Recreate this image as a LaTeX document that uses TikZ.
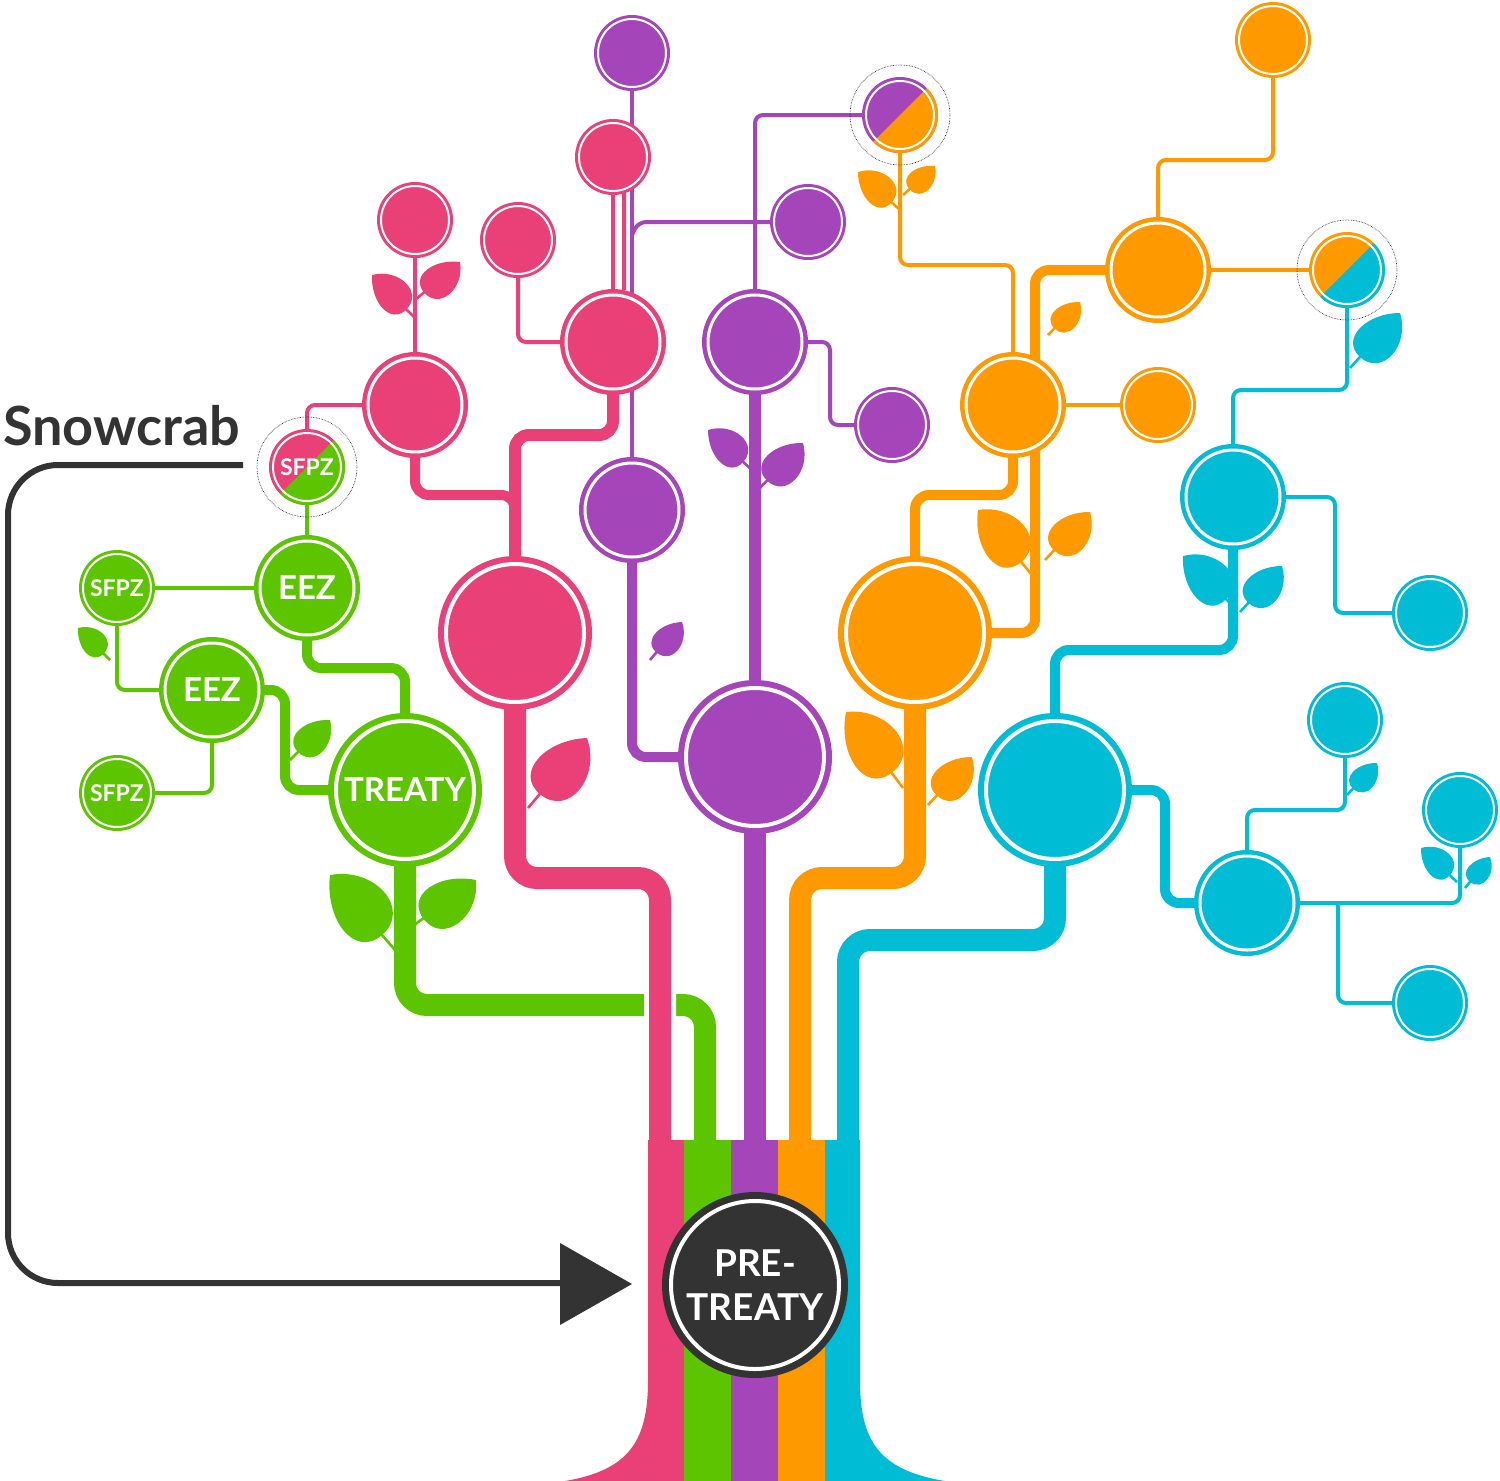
\documentclass[tikz,border=0pt]{standalone}
\usepackage{fontspec}
\setmainfont{Lato}[UprightFont=* Bold]
\usetikzlibrary{calc}
\definecolor{pk}{HTML}{E94077}
\definecolor{gr}{HTML}{5DC500}
\definecolor{pu}{HTML}{A445BA}
\definecolor{or}{HTML}{FF9900}
\definecolor{cy}{HTML}{00BCD4}
\definecolor{dk}{HTML}{333333}
\tikzset{
 thin/.style={line width=4,rounded corners=8},
 med/.style={line width=10,rounded corners=14},
 thk/.style={line width=22,rounded corners=22},
 wh/.style={white,line width=32,rounded corners=22},
 bub/.style={circle,fill=#1,inner sep=0,text=white},
 leaf/.pic={\draw[line width=2.6,pic actions] (0,0)--(16,0);
   \fill[pic actions] (60,0) .. controls (46,24) and (12,24) .. (12,0) .. controls (12,-22) and (42,-20) .. (60,0) -- cycle;}
}
\newcommand\leafat[3]{\path let \p1=($(#3)-(#2)$), \n1={atan2(\y1,\x1)}, \n2={veclen(\x1,\y1)/60} in (#2) pic[#1,rotate=\n1,scale=\n2] {leaf};}
\newcommand\ring[3]{\draw[white,line width=#3] (#1) circle ({#2});}
\newcommand\mixc[4]{\fill[#3] (#1) circle (#2);
 \begin{scope}\clip (#1) circle (#2);
 \fill[#4] ($(#1)+(#2,-#2)$) -- ($(#1)+(-#2,#2)$) -- ($(#1)+(#2,#2)$) -- cycle;\end{scope}
 \draw[white,line width=2] (#1) circle ({#2-4});
 \draw[black,densely dotted,line width=0.6] (#1) circle ({#2+12});}
\begin{document}
\begin{tikzpicture}[x=1pt,y=-1pt]
\useasboundingbox (0,0) rectangle (1500,1481);
% coordinates
\coordinate (P0) at (515,633); \coordinate (P1) at (415,405); \coordinate (P2) at (613,342);
\coordinate (P3) at (415,220); \coordinate (P4) at (518,240); \coordinate (P5) at (613,157);
\coordinate (U0) at (755,757); \coordinate (U1) at (755,342); \coordinate (U2) at (632,510);
\coordinate (U3) at (632,53); \coordinate (U4) at (808,222); \coordinate (U5) at (892,425);
\coordinate (UO) at (900,115);
\coordinate (O0) at (915,633); \coordinate (O1) at (1013,405); \coordinate (O2) at (1158,270);
\coordinate (O3) at (1158,405); \coordinate (O4) at (1273,40); \coordinate (OC) at (1347,270);
\coordinate (C0) at (1055,790); \coordinate (C1) at (1233,497); \coordinate (C2) at (1247,903);
\coordinate (C3) at (1430,613); \coordinate (C4) at (1345,720); \coordinate (C5) at (1460,810);
\coordinate (C6) at (1430,1003);
\coordinate (G0) at (405,790); \coordinate (G1) at (307,588); \coordinate (G2) at (212,690);
\coordinate (G3) at (117,588); \coordinate (G4) at (117,793); \coordinate (GP) at (307,467);
\coordinate (PT) at (755,1285);
% ---------- trunk
\fill[pk] (648,1140)--(684,1140)--(684,1481)--(565,1481) .. controls (630,1470) and (648,1440) .. (648,1380) -- cycle;
\fill[gr] (684,1140) rectangle (731,1481);
\fill[pu] (731,1140) rectangle (778,1481);
\fill[or] (778,1140) rectangle (825,1481);
\fill[cy] (825,1140)--(860,1140)--(860,1380) .. controls (860,1440) and (878,1470) .. (945,1481) -- (825,1481) -- cycle;
\draw[thk,gr] (G0)--(405,1005)--(705,1005)--(705,1141);
\draw[wh] (P0)--(515,878)--(660,878)--(660,1139);
\draw[thk,pk] (P0)--(515,878)--(660,878)--(660,1141);
\draw[thk,pu] (U0)--(755,1141);
\draw[thk,or] (O0)--(915,878)--(800,878)--(800,1141);
\draw[thk,cy] (C0)--(1055,940)--(848,940)--(848,1141);
% ---------- thin connectors
\draw[thin,pu] (U3)--(U2);
\draw[thin,pu] (632,235)--(638,222)--(U4);
\draw[thin,pu] (U1)--(755,115)--(UO);
\draw[thin,pu] (U1)--(830,342)--(830,425)--(U5);
\draw[thin,pk] (P5)--(P2);
\draw[thin,pk] (P5)--(624,160)--(624,290);
\draw[thin,pk] (P2)--(518,342)--(P4);
\draw[thin,pk] (P1)--(P3);
\draw[thin,pk] (P1)--(307,405)--(307,440);
\draw[thin,gr] (GP)--(G1);
\draw[thin,gr] (G1)--(G3);
\draw[thin,gr] (G3)--(117,690)--(G2);
\draw[thin,gr] (G2)--(212,793)--(G4);
\draw[thin,or] (O1)--(1013,265)--(900,265)--(UO);
\draw[thin,or] (O1)--(O3);
\draw[thin,or] (O2)--(1158,160)--(1273,160)--(O4);
\draw[thin,or] (O2)--(OC);
\draw[thin,cy] (C1)--(1233,390)--(1347,390)--(OC);
\draw[thin,cy] (C1)--(1335,497)--(1335,613)--(C3);
\draw[thin,cy] (C2)--(1247,810)--(1345,810)--(C4);
\draw[thin,cy] (C2)--(1460,903)--(C5);
\draw[thin,cy] (1338,903)--(1338,1003)--(C6);
% ---------- medium connectors
\draw[line width=12,rounded corners=14,pk] (P0)--(515,435)--(613,435)--(P2);
\draw[med,pk] (515,560)--(515,495)--(415,495)--(P1);
\draw[med,pu] (U0)--(632,757)--(U2);
\draw[line width=12,pu] (U0)--(U1);
\draw[med,or] (O0)--(915,495)--(1013,495)--(O1);
\draw[med,or] (O0)--(1035,633)--(1035,270)--(O2);
\draw[med,cy] (C0)--(1055,650)--(1233,650)--(C1);
\draw[med,cy] (C0)--(1165,790)--(1165,903)--(C2);
\draw[med,gr] (G0)--(405,668)--(307,668)--(G1);
\draw[med,gr] (G0)--(285,790)--(285,690)--(G2);
% ---------- leaves: base -> tip
\leafat{pk}{415,318}{372,275}
\leafat{pk}{415,300}{460,262}
\leafat{pk}{528,808}{587,738}
\leafat{pu}{752,470}{708,430}
\leafat{pu}{758,490}{803,443}
\leafat{pu}{650,660}{682,622}
\leafat{or}{900,210}{858,172}
\leafat{or}{903,195}{935,166}
\leafat{or}{1048,335}{1080,302}
\leafat{or}{1032,575}{978,510}
\leafat{or}{1045,560}{1090,512}
\leafat{or}{903,788}{846,712}
\leafat{or}{928,805}{972,757}
\leafat{cy}{1350,368}{1400,313}
\leafat{cy}{1237,610}{1183,556}
\leafat{cy}{1240,612}{1282,566}
\leafat{cy}{1347,795}{1377,763}
\leafat{cy}{1457,882}{1421,848}
\leafat{cy}{1465,888}{1490,857}
\leafat{gr}{395,950}{330,875}
\leafat{gr}{410,928}{476,880}
\leafat{gr}{290,760}{330,720}
\leafat{gr}{110,660}{78,628}
% ---------- bubbles
\node[bub=pk,minimum size=154] (p0) at (P0) {}; \ring{P0}{69}{4}
\node[bub=pk,minimum size=106] (p1) at (P1) {}; \ring{P1}{47}{3}
\node[bub=pk,minimum size=106] (p2) at (P2) {}; \ring{P2}{47}{3}
\foreach \c in {P3,P4,P5}{\node[bub=pk,minimum size=76] at (\c) {}; \ring{\c}{34}{2}}
\node[bub=pu,minimum size=154] (u0) at (U0) {}; \ring{U0}{69}{4}
\foreach \c in {U1,U2}{\node[bub=pu,minimum size=106] at (\c) {}; \ring{\c}{47}{3}}
\foreach \c in {U3,U4,U5}{\node[bub=pu,minimum size=76] at (\c) {}; \ring{\c}{34}{2}}
\node[bub=or,minimum size=154] (o0) at (O0) {}; \ring{O0}{69}{4}
\foreach \c in {O1,O2}{\node[bub=or,minimum size=106] at (\c) {}; \ring{\c}{47}{3}}
\foreach \c in {O3,O4}{\node[bub=or,minimum size=76] at (\c) {}; \ring{\c}{34}{2}}
\node[bub=cy,minimum size=154] (c0) at (C0) {}; \ring{C0}{69}{4}
\foreach \c in {C1,C2}{\node[bub=cy,minimum size=106] at (\c) {}; \ring{\c}{47}{3}}
\foreach \c in {C3,C4,C5,C6}{\node[bub=cy,minimum size=76] at (\c) {}; \ring{\c}{34}{2}}
\mixc{UO}{38}{pu}{or}
\mixc{OC}{38}{or}{cy}
\mixc{GP}{38}{pk}{gr}
\node[text=white,font=\fontsize{23}{23}\selectfont] (gp) at (GP) {SFPZ};
\node[bub=gr,minimum size=154,font=\fontsize{33}{33}\selectfont] (g0) at (G0) {TREATY}; \ring{G0}{69}{4}
\node[bub=gr,minimum size=106,font=\fontsize{33}{33}\selectfont] (g1) at (G1) {EEZ}; \ring{G1}{47}{3}
\node[bub=gr,minimum size=106,font=\fontsize{33}{33}\selectfont] (g2) at (G2) {EEZ}; \ring{G2}{47}{3}
\node[bub=gr,minimum size=76,font=\fontsize{23}{23}\selectfont] (g3) at (G3) {SFPZ}; \ring{G3}{34}{2}
\node[bub=gr,minimum size=76,font=\fontsize{23}{23}\selectfont] (g4) at (G4) {SFPZ}; \ring{G4}{34}{2}
\node[bub=dk,minimum size=186,align=center,font=\fontsize{37}{44}\selectfont] (pt) at (PT) {PRE-\\TREATY};
\ring{PT}{84}{4}
% ---------- snowcrab
\node[text=dk,font=\fontsize{54}{54}\selectfont,anchor=base west,inner sep=0] (sc) at (3,445) {Snowcrab};
\coordinate (s1) at (243,465);
\coordinate (s2) at (565,1283);
\draw[dk,line width=6,rounded corners=50] (s1)--(8,465)--(8,1283)--(s2);
\fill[dk] (560,1243)--(632,1284)--(560,1325)--cycle;
\end{tikzpicture}
\end{document}
